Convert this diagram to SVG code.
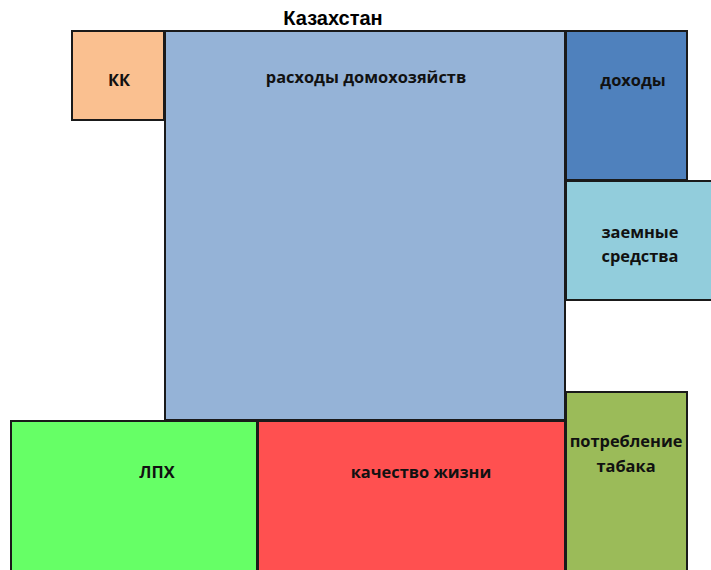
<svg xmlns="http://www.w3.org/2000/svg" width="711" height="570" viewBox="0 0 711 570">
<style>
.b{stroke:#1a1a1a;stroke-width:2}
.t{font-family:"Open Sans","Liberation Sans",sans-serif;font-weight:bold;font-size:16.4px;fill:#111;text-anchor:middle}
.h{font-family:"Liberation Sans",sans-serif;font-weight:bold;font-size:20px;fill:#000;text-anchor:middle}
</style>
<rect width="711" height="570" fill="#fff"/>
<text class="h" x="333" y="25">Казахстан</text>
<g id="kk"><rect class="b" x="72" y="31" width="92" height="89" fill="#FAC090"/><text class="t" x="119" y="86">КК</text></g>
<g id="rashody"><rect class="b" x="165" y="31" width="400" height="389" fill="#95B3D7"/><text class="t" x="366" y="83">расходы домохозяйств</text></g>
<g id="dohody"><rect class="b" x="566" y="31" width="121" height="149" fill="#4F81BD"/><text class="t" x="633" y="86">доходы</text></g>
<g id="zaem"><rect class="b" x="566" y="181" width="146" height="119" fill="#92CDDC"/><text class="t" x="640" y="238">заемные</text><text class="t" x="640" y="262">средства</text></g>
<g id="tabak"><rect class="b" x="566" y="392" width="121" height="180" fill="#9BBB59"/><text class="t" x="626" y="447">потребление</text><text class="t" x="626" y="472">табака</text></g>
<g id="lph"><rect class="b" x="11" y="421" width="246" height="151" fill="#66FF66"/><text class="t" x="157" y="478">ЛПХ</text></g>
<g id="kachestvo"><rect class="b" x="258" y="421" width="307" height="151" fill="#FF5050"/><text class="t" x="421" y="478">качество жизни</text></g>
<g id="connectors"></g>
</svg>
